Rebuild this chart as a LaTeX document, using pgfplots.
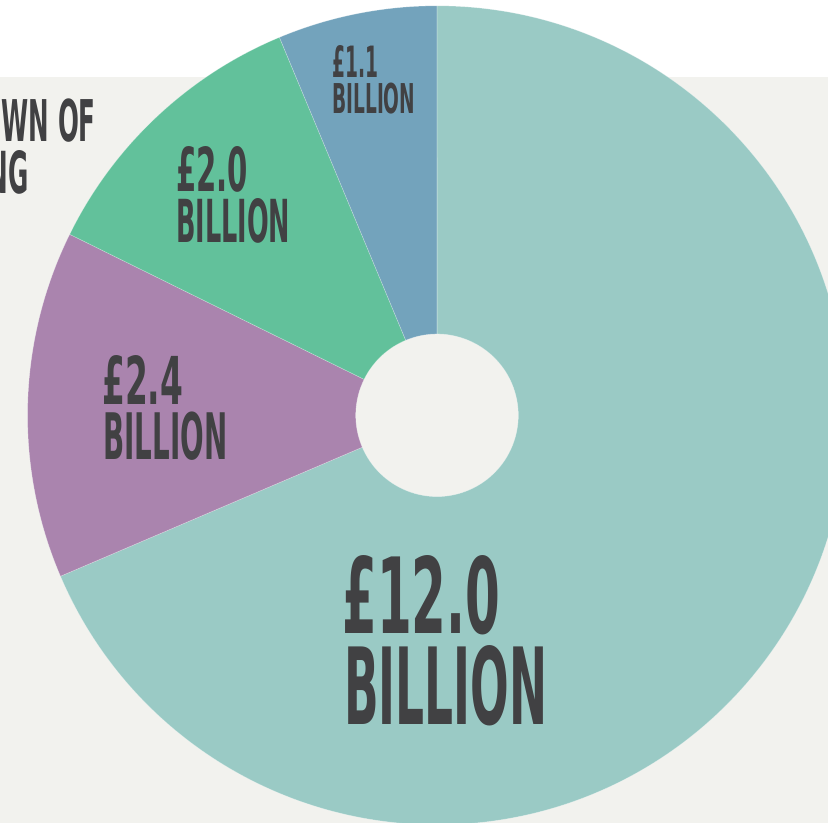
\documentclass[border=0pt]{standalone}
\usepackage{pgfplots}
\pgfplotsset{compat=1.18}
\usepackage{pgfplotstable}
\usepackage{graphicx}
\usepackage{fontspec}
\newfontfamily\labelfont{DejaVu Sans Condensed Bold}

\definecolor{slicea}{HTML}{9ACAC5}
\definecolor{sliceb}{HTML}{AA84AE}
\definecolor{slicec}{HTML}{62C19B}
\definecolor{sliced}{HTML}{73A3BC}
\definecolor{ink}{HTML}{414143}
\definecolor{paper}{HTML}{F2F2EE}

% one reference pixel
\newlength\unitpx
\setlength\unitpx{0.75pt}

% spending in billions of pounds, clockwise from the top
\pgfplotstableread{
cx  cy    amount colour
437 407.7 12.0   slicea
437 407.7 2.4    sliceb
437 407.7 2.0    slicec
437 407.7 1.1    sliced
}\spend

\pgfdeclareplotmark{blank}{}
\newsavebox\tmpbox
\newlength\bw
\newlength\bh

\begin{document}
\sbox\tmpbox{\labelfont BILLION}%
\setlength\bw{\wd\tmpbox}%
\setlength\bh{\ht\tmpbox}%
\pgfmathsetmacro\squeeze{(203/79)*\bh/\bw}%
\gdef\cumang{90}%
\begin{tikzpicture}
\useasboundingbox (0,0) rectangle (828\unitpx,823\unitpx);
\clip (0,0) rectangle (828\unitpx,823\unitpx);
\fill[white] (0,0) rectangle (828\unitpx,823\unitpx);
\fill[paper] (0,0) rectangle (828\unitpx,746\unitpx);
\begin{axis}[
    at={(0,0)}, anchor=origin,
    x=0.75pt, y=0.75pt,
    xmin=0, xmax=828, ymin=0, ymax=823,
    hide axis, clip=false
  ]
  \addplot[scatter, only marks, mark=blank,
    point meta=explicit symbolic,
    visualization depends on=\thisrow{amount}\as\sliceval,
    scatter/@pre marker code/.code={%
      \pgfmathsetmacro\angA{\cumang}%
      \pgfmathsetmacro\angB{\cumang-\sliceval/17.5*360}%
      \xdef\cumang{\angB}%
      \fill[fill=\pgfplotspointmeta, draw=white, draw opacity=0.35, line width=0.4pt]
        (\angA:307.1pt) arc[start angle=\angA, end angle=\angB, radius=307.1pt]
        -- (\angB:61pt) arc[start angle=\angB, end angle=\angA, radius=61pt]
        -- cycle;
    },
    scatter/@post marker code/.code={}
  ] table[x=cx, y=cy, meta=colour] {\spend};
\end{axis}

% labels, placed in reference pixels (origin bottom left, same as the axis)
\tikzset{lbl/.style={anchor=north west, inner sep=0pt, text=ink, font=\labelfont}}
\node[lbl] at (342\unitpx,268\unitpx) {\resizebox{158\unitpx}{78\unitpx}{£12.0}};
\node[lbl] at (344\unitpx,178\unitpx) {\resizebox{203\unitpx}{79\unitpx}{BILLION}};
\node[lbl] at (102\unitpx,468\unitpx) {\resizebox{81\unitpx}{49\unitpx}{£2.4}};
\node[lbl] at (103\unitpx,411.3\unitpx) {\resizebox{124\unitpx}{47.6\unitpx}{BILLION}};
\node[lbl] at (176\unitpx,677\unitpx) {\resizebox{72\unitpx}{45\unitpx}{£2.0}};
\node[lbl] at (176\unitpx,625\unitpx) {\resizebox{114\unitpx}{44\unitpx}{BILLION}};
\node[lbl] at (332\unitpx,778\unitpx) {\resizebox{46\unitpx}{32\unitpx}{£1.1}};
\node[lbl] at (332\unitpx,740\unitpx) {\resizebox{83\unitpx}{30.5\unitpx}{BILLION}};

\node[lbl, anchor=north east] at (96\unitpx,724\unitpx)
  {\resizebox{!}{42.7\unitpx}{\scalebox{\squeeze}[1]{BREAKDOWN OF}}};
\node[lbl, anchor=north east] at (29\unitpx,673\unitpx)
  {\resizebox{!}{43\unitpx}{\scalebox{\squeeze}[1]{SPENDING}}};
\end{tikzpicture}
\end{document}
